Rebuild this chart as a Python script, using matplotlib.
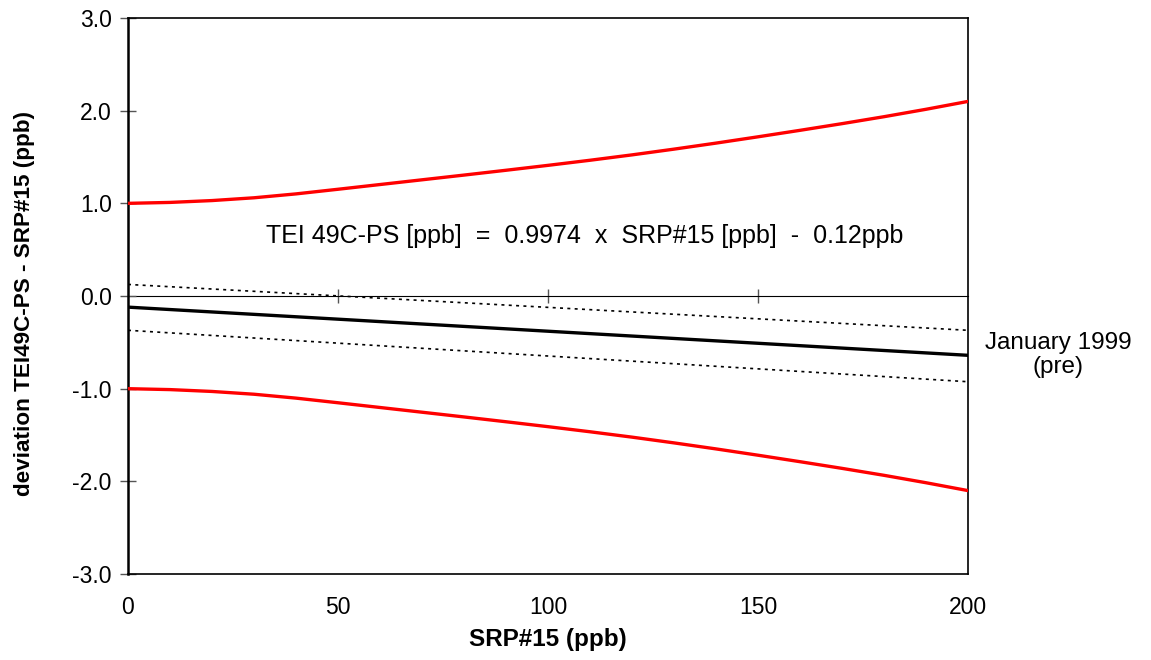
import matplotlib
matplotlib.use('Agg')
import matplotlib.pyplot as plt

plt.rcParams['font.family'] = ['Liberation Sans', 'DejaVu Sans']

# SRP#15 concentration (ppb)
x_vals = [0, 10, 20, 30, 40, 50, 60, 70, 80, 90, 100,
          110, 120, 130, 140, 150, 160, 170, 180, 190, 200]
# allowed deviation limits (upper, lower is mirrored)
upper_limit = [1.000, 1.010, 1.030, 1.060, 1.102, 1.152, 1.203, 1.254, 1.305, 1.357, 1.410,
               1.465, 1.523, 1.585, 1.650, 1.718, 1.788, 1.860, 1.935, 2.015, 2.100]
lower_limit = [-v for v in upper_limit]

# regression line and confidence band
fit_x = [0, 200]
fit_y = [-0.12, -0.64]
conf_upper = [0.125, -0.37]
conf_lower = [-0.37, -0.925]

fig = plt.figure(figsize=(11.51, 6.60), dpi=100)
ax = fig.add_axes([0.1112, 0.1303, 0.7298, 0.8424])

ax.plot(x_vals, upper_limit, color='#ff0000', lw=2.4, zorder=3)
ax.plot(x_vals, lower_limit, color='#ff0000', lw=2.4, zorder=3)
ax.plot(fit_x, fit_y, color='black', lw=2.4, zorder=3)
ax.plot(fit_x, conf_upper, color='black', lw=1.2, dashes=(1.8, 2.6), zorder=3)
ax.plot(fit_x, conf_lower, color='black', lw=1.2, dashes=(1.8, 2.6), zorder=3)

ax.set_xlim(0, 200)
ax.set_ylim(-3, 3)

# left axis ticks
ax.set_yticks([-3, -2, -1, 0, 1, 2, 3])
ax.set_yticklabels(['%.1f' % v for v in [-3, -2, -1, 0, 1, 2, 3]])
ax.tick_params(axis='y', direction='inout', length=11.5, width=1, color='#555555',
               pad=6, labelsize=16.5)

# bottom labels without tick marks
ax.set_xticks([0, 50, 100, 150, 200])
ax.tick_params(axis='x', length=0, pad=16, labelsize=16.5)

# zero line with its own ticks
zero_ax = ax.secondary_xaxis(0.5)
zero_ax.set_xticks([50, 100, 150])
zero_ax.set_xticklabels([])
zero_ax.tick_params(direction='inout', length=10, width=1, color='#555555')
zero_ax.spines['bottom'].set_linewidth(1.2)

for side in ['top', 'right', 'bottom']:
    ax.spines[side].set_linewidth(1.2)
ax.spines['left'].set_linewidth(1.8)

ax.set_xlabel('SRP#15 (ppb)', fontsize=17.5, fontweight='bold')
ax.xaxis.set_label_coords(0.5, -0.097)
ax.set_ylabel('deviation TEI49C-PS - SRP#15 (ppb)', fontsize=16.2, fontweight='bold')
ax.yaxis.set_label_coords(-0.111, 0.486)

ax.text(108.8, 0.647, 'TEI 49C-PS [ppb]  =  0.9974  x  SRP#15 [ppb]  -  0.12ppb',
        fontsize=18, ha='center', va='center')
ax.text(1.107, 0.394, 'January 1999\n(pre)', transform=ax.transAxes,
        fontsize=17.5, ha='center', va='center', linespacing=1.1)

fig.savefig('out.png', dpi=100)
